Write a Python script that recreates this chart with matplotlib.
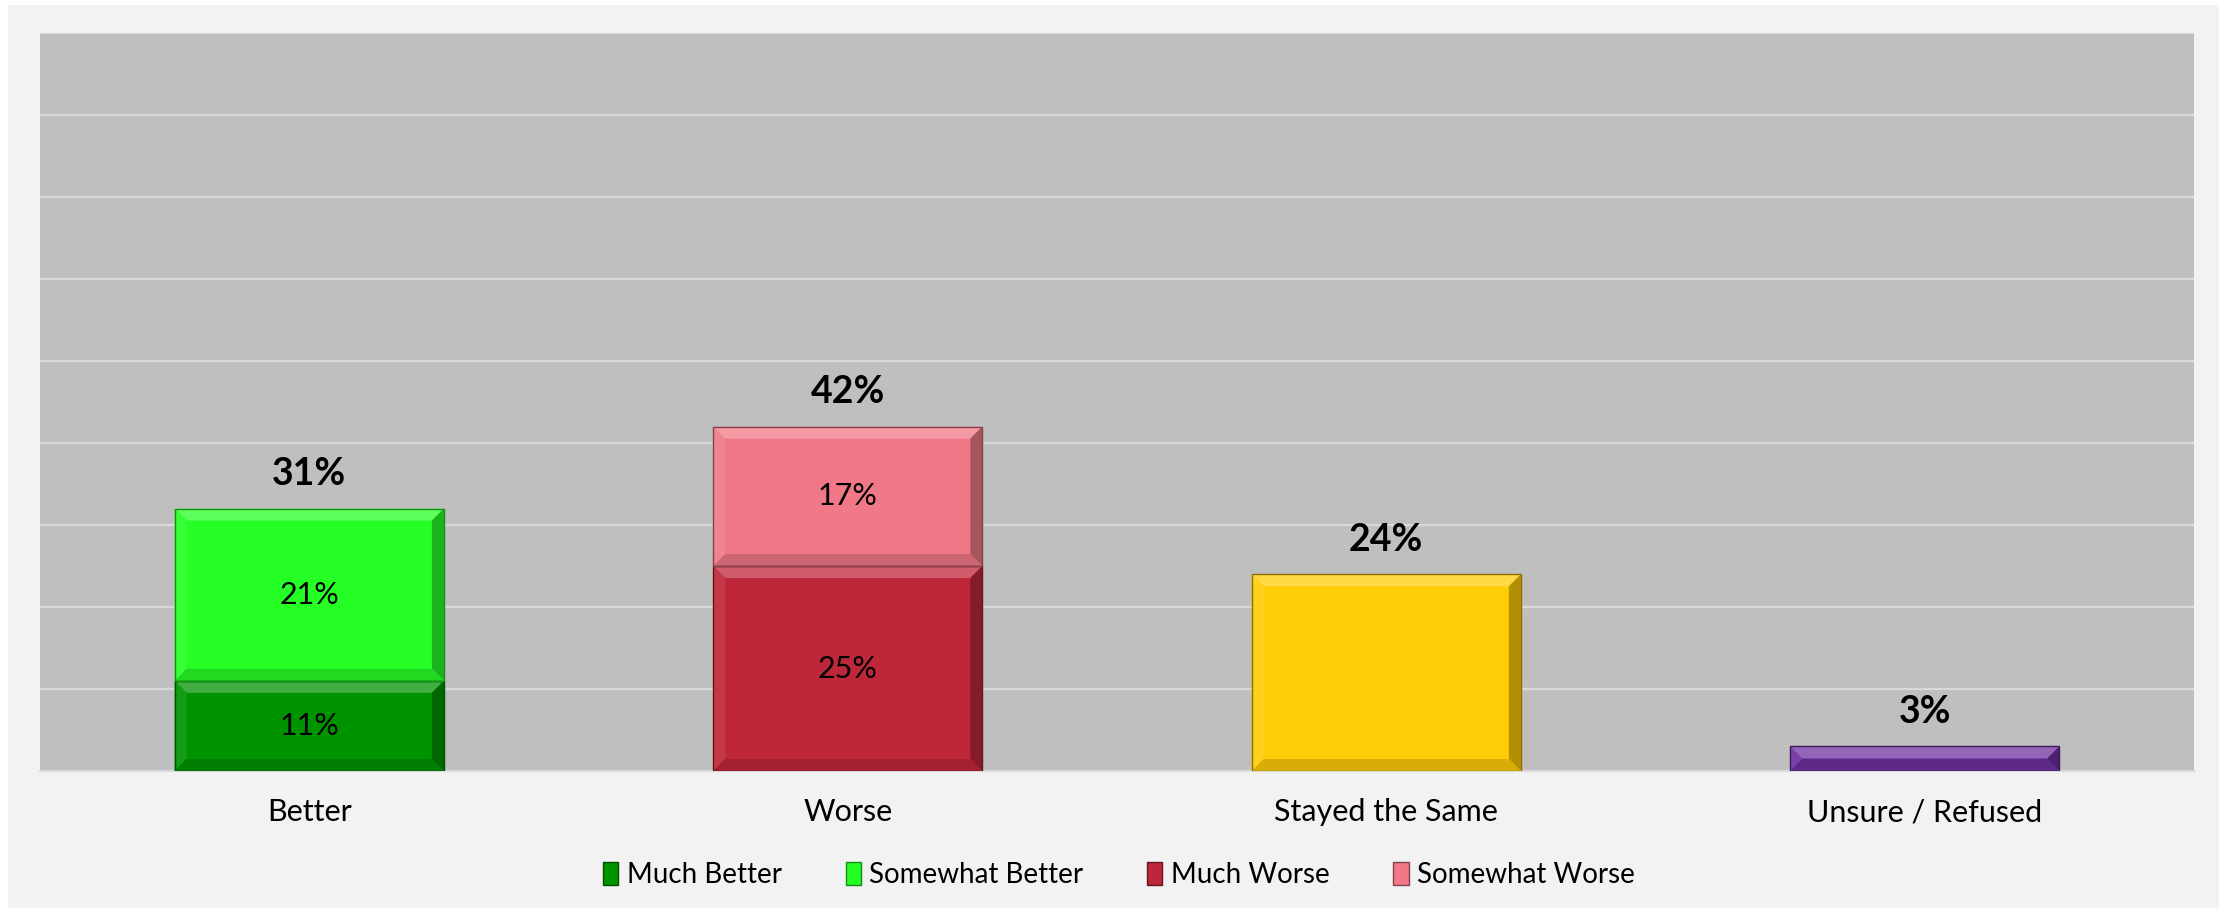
import numpy as np
import matplotlib
matplotlib.use("Agg")
from matplotlib import pyplot as plt
from matplotlib.patches import Patch, Rectangle, Polygon
from matplotlib.colors import to_rgb

plt.rcParams['font.family'] = ['Lato', 'DejaVu Sans']

categories = ["Better", "Worse", "Stayed the Same", "Unsure / Refused"]
much_better = [11, 0, 0, 0]
somewhat_better = [21, 0, 0, 0]
much_worse = [0, 25, 0, 0]
somewhat_worse = [0, 17, 0, 0]
stayed_same = [0, 0, 24, 0]
unsure = [0, 0, 0, 3]
totals = [31, 42, 24, 3]

c_much_better = "#009300"
c_some_better = "#26FF26"
c_much_worse = "#BE2639"
c_some_worse = "#F07887"
c_stayed = "#FFCC08"
c_unsure = "#7030A0"

W, H, DPI = 2224, 913, 100
fig = plt.figure(figsize=(W / DPI, H / DPI), dpi=DPI, facecolor="white")
fig.patches.append(Rectangle((8 / W, 5 / H), (2219 - 8) / W, (908 - 5) / H,
                             transform=fig.transFigure, facecolor="#F2F2F2",
                             edgecolor="none", zorder=-10))
ax = fig.add_axes([40 / W, 1 - 771 / H, (2194 - 40) / W, (771 - 33) / H])
ax.set_facecolor("#BFBFBF")

x = np.arange(len(categories))
width = 0.5
ax.set_xlim(-0.5, len(categories) - 0.5)
ax.set_ylim(0, 90)
ax.set_yticks(np.arange(0, 91, 10))
ax.yaxis.grid(True, color="#D9D9D9", linewidth=1.6)
ax.set_axisbelow(True)
for s in ["top", "left", "right"]:
    ax.spines[s].set_visible(False)
ax.spines["bottom"].set_color("#D9D9D9")
ax.spines["bottom"].set_linewidth(1.6)
ax.tick_params(axis="y", left=False, labelleft=False)
ax.tick_params(axis="x", bottom=False, pad=16, labelsize=22)
ax.set_xticks(x)
ax.set_xticklabels(categories)

# pixel sizes for the bevel
px_x = (2194 - 40) / 4.0
px_y = (771 - 33) / 90.0
bev = 12


def mix(c, other, t):
    c = np.array(to_rgb(c))
    o = np.array(to_rgb(other))
    return tuple(c * (1 - t) + o * t)


def bevel(rects, color):
    for r in rects:
        x0, y0 = r.get_x(), r.get_y()
        w, h = r.get_width(), r.get_height()
        if h <= 0:
            continue
        bx = bev / px_x
        by = min(bev / px_y, h / 2)
        x1, y1 = x0 + w, y0 + h
        polys = [
            ([(x0, y1), (x1, y1), (x1 - bx, y1 - by), (x0 + bx, y1 - by)], mix(color, "white", 0.25)),
            ([(x0, y0), (x0, y1), (x0 + bx, y1 - by), (x0 + bx, y0 + by)], mix(color, "white", 0.08)),
            ([(x1, y0), (x1, y1), (x1 - bx, y1 - by), (x1 - bx, y0 + by)], mix(color, "black", 0.3)),
            ([(x0, y0), (x1, y0), (x1 - bx, y0 + by), (x0 + bx, y0 + by)], mix(color, "black", 0.15)),
        ]
        for pts, col in polys:
            ax.add_patch(Polygon(pts, closed=True, facecolor=col, edgecolor="none", zorder=3))
        ax.add_patch(Rectangle((x0, y0), w, h, facecolor="none",
                               edgecolor=mix(color, "black", 0.45), linewidth=1.0, zorder=4))


def stack(vals, bottom, color, label=None, inner=False):
    rects = ax.bar(x, vals, width, bottom=bottom, color=color, zorder=2, label=label)
    bevel(rects, color)
    if inner:
        for r, v in zip(rects, vals):
            if v > 0:
                ax.text(r.get_x() + r.get_width() / 2, r.get_y() + v / 2, f"{v}%",
                        ha="center", va="center", fontsize=22, zorder=5)
    return rects


zero = np.zeros(len(categories))
stack(much_better, zero, c_much_better, "Much Better", inner=True)
stack(somewhat_better, zero + much_better, c_some_better, "Somewhat Better", inner=True)
stack(much_worse, zero, c_much_worse, "Much Worse", inner=True)
stack(somewhat_worse, zero + much_worse, c_some_worse, "Somewhat Worse", inner=True)
stack(stayed_same, zero, c_stayed)
stack(unsure, zero, c_unsure)

tops = (np.array(much_better) + np.array(somewhat_better) + np.array(much_worse)
        + np.array(somewhat_worse) + np.array(stayed_same) + np.array(unsure))
for xi, top, t in zip(x, tops, totals):
    ax.annotate(f"{t}%", (xi, top), xytext=(0, 17), textcoords="offset points",
                ha="center", va="baseline", fontsize=27, fontweight="bold", zorder=5)

handles = [Patch(facecolor=c, edgecolor=mix(c, "black", 0.45)) for c in
           [c_much_better, c_some_better, c_much_worse, c_some_worse]]
labels = ["Much Better", "Somewhat Better", "Much Worse", "Somewhat Worse"]
fig.legend(handles, labels, loc="center", bbox_to_anchor=(1119 / W, 1 - 875 / H),
           ncol=4, frameon=False, fontsize=20, handlelength=0.55, handleheight=0.9,
           handletextpad=0.3, columnspacing=2.3)

fig.savefig("out.png", dpi=DPI, facecolor="white")
